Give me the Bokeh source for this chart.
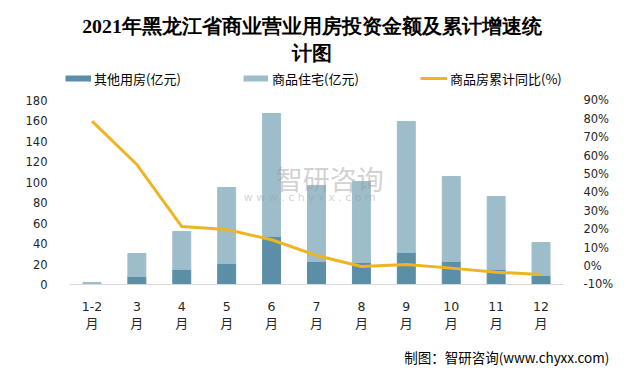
from bokeh.plotting import figure
from bokeh.models import (FactorRange, Range1d, LinearAxis, FixedTicker, Legend,
                          LegendItem, Label, ColumnDataSource, PrintfTickFormatter)
from bokeh.core.properties import value
from bokeh.embed import file_html
from bokeh.resources import INLINE

# ---- data ----
months = ["1-2", "3", "4", "5", "6", "7", "8", "9", "10", "11", "12"]   # x categories (月)
unit_label = "月"
other = [0.9, 7.8, 14.7, 20.5, 47.0, 22.5, 21.5, 31.3, 22.5, 14.7, 8.8]          # 其他用房(亿元)
resid = [1.1, 22.5, 37.2, 74.4, 120.3, 74.4, 79.3, 128.2, 83.2, 71.4, 32.3]      # 商品住宅(亿元)
pct = [78.8, 55.2, 21.5, 19.9, 14.3, 5.8, -0.2, 0.9, -1.1, -3.3, -4.6]           # 商品房累计同比(%)
left_ticks = [0, 20, 40, 60, 80, 100, 120, 140, 160, 180]
right_ticks = [-10, 0, 10, 20, 30, 40, 50, 60, 70, 80, 90]

title1 = "2021年黑龙江省商业营业用房投资金额及累计增速统"
title2 = "计图"
footer = "制图：智研咨询(www.chyxx.com)"

DARK = "#5B8FA7"
LIGHT = "#9EBDCB"
GOLD = "#EEB422"
TXT = "#262626"

src = ColumnDataSource(dict(month=months, other=other, resid=resid, pct=pct,
                            unit=[unit_label] * len(months)))

PAD = 1.2695  # factor padding on each side so the bars sit where the reference has them
p = figure(x_range=FactorRange(*months, range_padding=PAD, range_padding_units="absolute"),
           y_range=Range1d(-81.2, 270),
           width=620, height=367, output_backend="svg", toolbar_location=None,
           min_border_left=12, min_border_right=0, min_border_top=8, min_border_bottom=0)
p.extra_y_ranges = {"pct": Range1d(-55.11, 140)}

bars = p.vbar_stack(["other", "resid"], x="month", width=0.4, color=[DARK, LIGHT], source=src)
ln = p.line("month", "pct", source=src, y_range_name="pct", line_color=GOLD, line_width=3,
            line_join="round")

p.xgrid.visible = False
p.ygrid.visible = False
p.outline_line_color = None

# left axis (fixed at the left edge of the category band)
ya = p.yaxis[0]
ya.fixed_location = 0
ya.ticker = FixedTicker(ticks=left_ticks)
ya.axis_line_color = None
ya.major_tick_line_color = None
ya.minor_tick_line_color = None
ya.major_label_standoff = 16
ya.major_label_text_font = "DejaVu Sans"
ya.major_label_text_font_size = "11.5px"
ya.major_label_text_color = TXT

# right axis
ra = LinearAxis(y_range_name="pct", ticker=FixedTicker(ticks=right_ticks),
                formatter=PrintfTickFormatter(format="%d%%"), fixed_location=len(months))
ra.axis_line_color = None
ra.major_tick_line_color = None
ra.minor_tick_line_color = None
ra.major_label_standoff = 14
ra.major_label_text_font = "DejaVu Sans"
ra.major_label_text_font_size = "11.5px"
ra.major_label_text_color = TXT
p.add_layout(ra, "right")

# x axis: first line (numbers)
xa = p.xaxis[0]
xa.fixed_location = 0
xa.bounds = (0, len(months))
xa.axis_line_color = "#D9D9D9"
xa.major_tick_line_color = None
xa.minor_tick_line_color = None
xa.major_label_text_font = "DejaVu Sans"
xa.major_label_text_font_size = "12.5px"
xa.major_label_text_color = TXT
xa.major_label_standoff = 12

# x tick labels: second line (月) under each category
p.text(x="month", y=-37.2, text="unit", source=src, text_font=value("Noto Sans CJK SC"),
       text_font_size="13px", text_color=TXT, text_align="center", text_baseline="middle")

# legend swatches (lines kept far below the visible range)
d1 = p.line(x=[months[0], months[1]], y=[-1000, -1000], line_color=DARK, line_width=6)
d2 = p.line(x=[months[0], months[1]], y=[-1000, -1000], line_color=LIGHT, line_width=6)

def mk_legend(label, r, x, gw, so):
    lg = Legend(items=[LegendItem(label=label, renderers=[r])], location=(x, 279),
                orientation="horizontal", glyph_width=gw, glyph_height=20, label_height=20,
                label_standoff=so, padding=0, margin=0, spacing=0,
                border_line_color=None, background_fill_alpha=0,
                label_text_font="Noto Sans CJK SC", label_text_font_size="13px",
                label_text_color="#000000")
    p.add_layout(lg)

mk_legend("其他用房(亿元)", d1, 53, 26, 3)
mk_legend("商品住宅(亿元)", d2, 231, 25, 4)
mk_legend("商品房累计同比(%)", ln, 408, 27, 3)

# watermark
p.add_layout(Label(x=4.59, y=103.7, text="智研咨询", text_font="Noto Sans CJK SC",
                   text_font_size="27px", text_color="#9a9a9a", text_alpha=0.45,
                   text_baseline="middle", text_align="left"))
p.add_layout(Label(x=3.88, y=85.1, text="w w w . c h y x x . c o m", text_font="DejaVu Sans",
                   text_font_size="11px", text_color="#9a9a9a", text_alpha=0.45,
                   text_baseline="middle", text_align="left"))

# titles and footer
p.add_layout(Label(x=5.40, y=252.4, text=title1, text_font="Liberation Serif",
                   text_font_style="bold", text_font_size="19.8px", text_color="#000000",
                   text_align="center", text_baseline="middle"))
p.add_layout(Label(x=5.40, y=226.5, text=title2, text_font="Liberation Serif",
                   text_font_style="bold", text_font_size="19.8px", text_color="#000000",
                   text_align="center", text_baseline="middle"))
p.add_layout(Label(x=12.02, y=-71.4, text=footer, text_font="Noto Sans CJK SC",
                   text_font_size="13.5px", text_color="#000000",
                   text_align="right", text_baseline="middle"))

open("out.html", "w").write(file_html(p, INLINE))
